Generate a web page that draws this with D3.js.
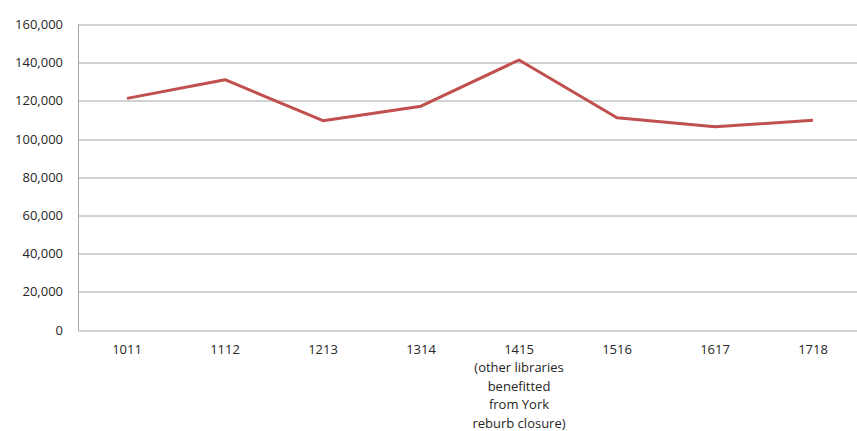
<!DOCTYPE html>
<html>
<head>
<meta charset="utf-8">
<script src="https://cdn.jsdelivr.net/npm/d3@7"></script>
<style>
  body { margin: 0; background: #fff; }
  svg { display: block; font-family: "Open Sans", "Noto Sans", sans-serif; }
</style>
</head>
<body>
<svg width="857" height="431"></svg>
<script>
// data
var categories = ['1011', '1112', '1213', '1314',
  '1415\n(other libraries\nbenefitted\nfrom York\nreburb closure)',
  '1516', '1617', '1718'];
var values = [121300, 131100, 109600, 117200, 141400, 111200, 106500, 109800];
var yTicks = [0, 20000, 40000, 60000, 80000, 100000, 120000, 140000, 160000];

var marge = { top: 24.5, bottom: 101, left: 78, right: -5 };
var svg = d3.select("svg");
var width = 857 - marge.left - marge.right;
var height = 431 - marge.top - marge.bottom;
var g = svg.append("g").attr("transform", "translate(" + marge.left + "," + marge.top + ")");

var x = d3.scaleBand().domain(categories).range([0, width]);
var y = d3.scaleLinear().domain([0, 160000]).range([height, 0]);

// gridlines
g.selectAll(".grid")
  .data(yTicks)
  .enter()
  .append("line")
  .attr("x1", 0)
  .attr("x2", width)
  .attr("y1", function(d) { return Math.round(y(d)) + 0.5; })
  .attr("y2", function(d) { return Math.round(y(d)) + 0.5; })
  .attr("stroke", "#a6a6a6")
  .attr("stroke-width", 1);

// left axis line
g.append("line")
  .attr("x1", 0.5).attr("x2", 0.5)
  .attr("y1", 0).attr("y2", height)
  .attr("stroke", "#a6a6a6");

// y labels
var fmt = d3.format(",");
g.selectAll(".ylab")
  .data(yTicks)
  .enter()
  .append("text")
  .attr("x", -15)
  .attr("y", function(d) { return y(d); })
  .attr("dy", "0.35em")
  .attr("text-anchor", "end")
  .attr("font-size", 13)
  .attr("fill", "#262626")
  .text(function(d) { return fmt(d); });

// x labels
var xl = g.selectAll(".xlab")
  .data(categories)
  .enter()
  .append("text")
  .attr("text-anchor", "middle")
  .attr("font-size", 13)
  .attr("fill", "#262626")
  .attr("transform", function(d) {
    return "translate(" + (x(d) + x.bandwidth() / 2) + "," + (height + 24) + ")";
  });
xl.selectAll("tspan")
  .data(function(d) { return d.split("\n"); })
  .enter()
  .append("tspan")
  .attr("x", 0)
  .attr("y", function(d, i) { return i * 18.4; })
  .text(function(d) { return d; });

// line
var line = d3.line()
  .x(function(d, i) { return x(categories[i]) + x.bandwidth() / 2; })
  .y(function(d) { return y(d); });
g.append("path")
  .datum(values)
  .attr("d", line)
  .attr("fill", "none")
  .attr("stroke", "#c0504d")
  .attr("stroke-width", 3)
  .attr("stroke-linejoin", "round");
</script>
</body>
</html>
